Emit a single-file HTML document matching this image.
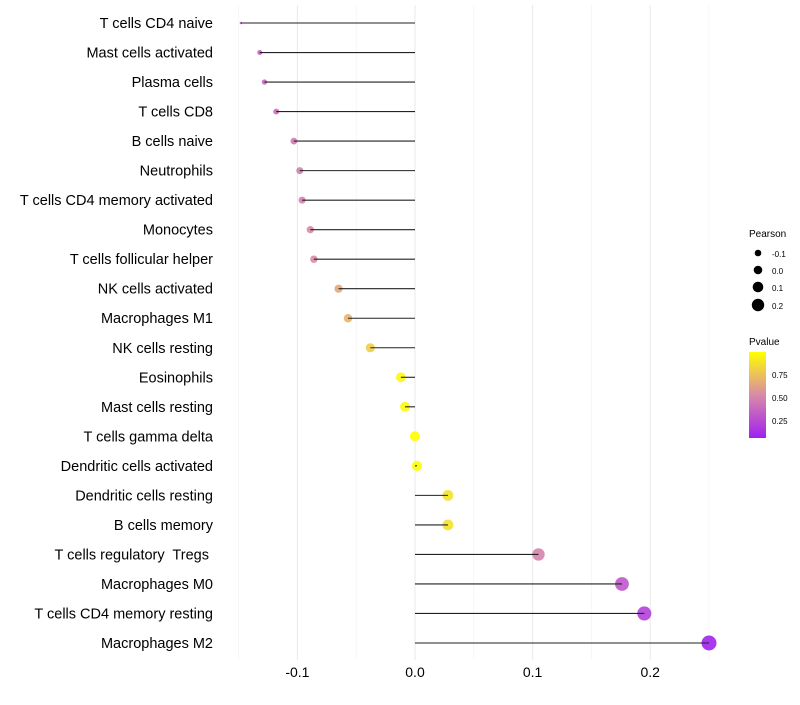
<!DOCTYPE html>
<html><head><meta charset="utf-8"><style>
body{margin:0;background:#fff;font-family:"Liberation Sans",sans-serif}
svg text{font-family:"Liberation Sans",sans-serif;white-space:pre}
</style></head><body>
<svg id="chart" width="800" height="700" xmlns="http://www.w3.org/2000/svg">
<defs><linearGradient id="pg" x1="0" y1="1" x2="0" y2="0">
<stop offset="0" stop-color="#a020f0"/><stop offset="0.5" stop-color="#d98aa8"/><stop offset="1" stop-color="#ffff00"/>
</linearGradient></defs>
<g id="grid"></g>
<g id="marks"></g>
<g id="labels"></g>
<g id="ticks"></g>
<g>
<text x="749" y="237" font-size="10" fill="#000">Pearson</text>
<circle cx="758" cy="253" r="3.3" fill="#000"/><text x="772" y="257" font-size="8">-0.1</text>
<circle cx="758" cy="270" r="4.3" fill="#000"/><text x="772" y="274" font-size="8">0.0</text>
<circle cx="758" cy="287" r="5.3" fill="#000"/><text x="772" y="291" font-size="8">0.1</text>
<circle cx="758" cy="305" r="6.2" fill="#000"/><text x="772" y="309" font-size="8">0.2</text>
</g>
<g>
<text x="749" y="345" font-size="10">Pvalue</text>
<rect x="749" y="352" width="17" height="86" fill="url(#pg)"/>
<text x="772" y="378" font-size="8">0.75</text>
<text x="772" y="401" font-size="8">0.50</text>
<text x="772" y="424" font-size="8">0.25</text>
</g>
</svg>
<script>
const categories=["T cells CD4 naive","Mast cells activated","Plasma cells","T cells CD8","B cells naive","Neutrophils","T cells CD4 memory activated","Monocytes","T cells follicular helper","NK cells activated","Macrophages M1","NK cells resting","Eosinophils","Mast cells resting","T cells gamma delta","Dendritic cells activated","Dendritic cells resting","B cells memory","T cells regulatory  Tregs ","Macrophages M0","T cells CD4 memory resting","Macrophages M2"];
const pearson=[-0.148,-0.132,-0.128,-0.118,-0.103,-0.098,-0.096,-0.089,-0.086,-0.065,-0.057,-0.038,-0.012,-0.0085,0.0,0.0017,0.028,0.028,0.105,0.176,0.195,0.25];
const pvalues=[0.3,0.35,0.36,0.4,0.45,0.47,0.48,0.52,0.53,0.65,0.7,0.8,0.97,0.98,0.99,0.99,0.88,0.88,0.5,0.3,0.2,0.06];
const xTicks=[-0.1,0.0,0.1,0.2];
const xMinor=[-0.15,-0.05,0.05,0.15,0.25];
const NS="http://www.w3.org/2000/svg";
const xs=v=>415+v*1176;
const ys=i=>23+i*(620/21);
const pMin=Math.min(...pearson),pMax=Math.max(...pearson);
const rs=v=>1.25*(1+5*Math.sqrt((v-pMin)/(pMax-pMin)));
function lerp(a,b,t){return a.map((c,k)=>Math.round(c+(b[k]-c)*t));}
function col(p){const lo=0.05,hi=1.0;let t=Math.max(0,Math.min(1,(p-lo)/(hi-lo)));
const a=[160,32,240],m=[217,138,168],b=[255,255,0];
const c=t<0.5?lerp(a,m,t/0.5):lerp(m,b,(t-0.5)/0.5);return `rgb(${c.join(',')})`;}
function mk(tag,at,parent){const e=document.createElementNS(NS,tag);for(const k in at)e.setAttribute(k,at[k]);document.getElementById(parent).appendChild(e);return e;}
xMinor.forEach(v=>{const l=mk('line',{x1:xs(v),x2:xs(v),y1:5,y2:660,stroke:'#f2f2f2','stroke-width':0.6},'grid');

});
xTicks.forEach(v=>{const l=mk('line',{x1:xs(v),x2:xs(v),y1:5,y2:660,stroke:'#ebebeb','stroke-width':1.1},'grid');


const t=mk('text',{x:xs(v),y:677,'font-size':14,'text-anchor':'middle',fill:'#000'},'ticks');t.textContent=v.toFixed(1);

});
categories.forEach((c,i)=>{const y=ys(i);
const t=mk('text',{x:213,y:y+5,'font-size':14.5,'text-anchor':'end',fill:'#000'},'labels');t.textContent=c;


const ci=mk('circle',{cx:xs(pearson[i]),cy:y,r:rs(pearson[i]),fill:col(pvalues[i]),'fill-opacity':0.9},'marks');


const l=mk('line',{x1:xs(0),x2:xs(pearson[i]),y1:y,y2:y,stroke:'#222','stroke-width':1.1},'marks');

});
</script>
</body></html>
